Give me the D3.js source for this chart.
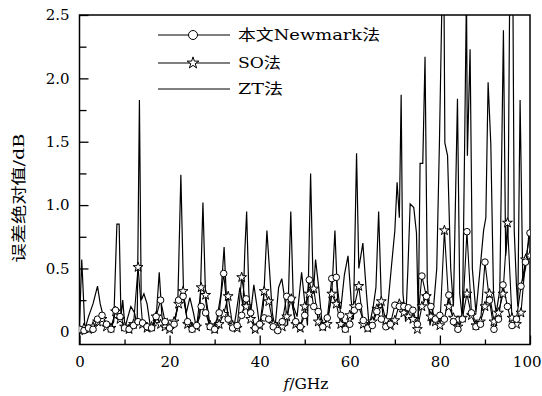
<!DOCTYPE html>
<html>
<head>
<meta charset="utf-8">
<script src="https://cdn.jsdelivr.net/npm/d3@7"></script>
<style>
  body { margin: 0; background: #fff; }
  text { font-family: "DejaVu Serif", "Noto Sans CJK SC", serif; fill: #000; }
</style>
</head>
<body>
<svg id="chart" width="542" height="396"></svg>
<script>
// sample grid (GHz) for the two marker series
const freq = d3.range(0, 101);

// 本文Newmark法 (circles)
const newmark = [
  0.02, 0.01, 0.03, 0.02, 0.10, 0.13, 0.06, 0.02, 0.17, 0.12,
  0.03, 0.02, 0.05, 0.08, 0.07, 0.04, 0.03, 0.12, 0.25, 0.08,
  0.03, 0.06, 0.25, 0.28, 0.08, 0.02, 0.05, 0.20, 0.15, 0.04,
  0.02, 0.15, 0.46, 0.10, 0.03, 0.05, 0.13, 0.26, 0.15, 0.03,
  0.06, 0.11, 0.10, 0.04, 0.01, 0.08, 0.28, 0.26, 0.08, 0.04,
  0.13, 0.41, 0.20, 0.16, 0.04, 0.11, 0.42, 0.43, 0.13, 0.02,
  0.06, 0.17, 0.20, 0.09, 0.03, 0.05, 0.16, 0.10, 0.04, 0.06,
  0.21, 0.20, 0.20, 0.19, 0.17, 0.06, 0.44, 0.28, 0.20, 0.10,
  0.13, 0.10, 0.29, 0.08, 0.02, 0.10, 0.79, 0.15, 0.04, 0.06,
  0.55, 0.25, 0.02, 0.10, 0.37, 0.20, 0.05, 0.10, 0.36, 0.55,
  0.78
];

// SO法 (stars)
const so = [
  0.01, 0.03, 0.02, 0.04, 0.08, 0.10, 0.04, 0.03, 0.16, 0.10,
  0.04, 0.02, 0.06, 0.51, 0.06, 0.03, 0.04, 0.12, 0.06, 0.04,
  0.02, 0.08, 0.22, 0.32, 0.06, 0.03, 0.04, 0.35, 0.29, 0.05,
  0.02, 0.06, 0.14, 0.28, 0.05, 0.03, 0.43, 0.20, 0.10, 0.02,
  0.05, 0.32, 0.24, 0.06, 0.03, 0.04, 0.12, 0.26, 0.06, 0.03,
  0.20, 0.30, 0.34, 0.08, 0.04, 0.06, 0.30, 0.22, 0.06, 0.03,
  0.13, 0.20, 0.36, 0.06, 0.03, 0.08, 0.18, 0.24, 0.09, 0.05,
  0.09, 0.22, 0.15, 0.12, 0.10, 0.02, 0.20, 0.28, 0.12, 0.08,
  0.05, 0.80, 0.20, 0.11, 0.04, 0.11, 0.30, 0.13, 0.05, 0.08,
  0.20, 0.30, 0.08, 0.15, 0.30, 0.86, 0.11, 0.06, 0.15, 0.57,
  0.60
];

// ZT法 (plain line, finer sampling)
const ztFreq = [
  0, 0.5, 1.2, 2.0, 3.0, 4.0, 4.6, 5.3, 6.0, 6.8, 7.6, 8.3, 8.8, 9.2, 9.6,
  10.1, 10.6, 11.4, 12.2, 12.8, 13.3, 13.7, 14.3, 15.0, 15.7, 16.3, 17.0, 17.7, 18.3, 18.8,
  19.5, 20.2, 21.0, 21.8, 22.5, 23.1, 23.7, 24.5, 25.3, 25.9, 26.7, 27.4, 28.0, 28.7, 29.6,
  30.5, 31.4, 32.1, 32.7, 33.4, 34.2, 34.8, 35.6, 36.3, 36.7, 37.1, 37.6, 38.0, 38.7, 39.4,
  40.0, 40.8, 41.6, 42.1, 42.8, 43.4, 44.2, 44.9, 45.6, 46.2, 46.9, 47.5, 48.3, 49.3, 50.1,
  50.6, 51.3, 51.9, 52.4, 53.1, 53.8, 54.5, 55.3, 56.0, 56.7, 57.3, 58.0, 58.8, 59.6, 60.3,
  60.8, 61.5, 62.0, 62.9, 63.7, 64.3, 65.2, 65.8, 66.4, 67.0, 67.6, 68.3, 69.2, 70.0, 70.5,
  71.0, 71.4, 71.8, 72.4, 72.9, 73.4, 74.2, 74.8, 75.2, 75.6, 76.2, 76.7, 77.2, 77.8, 78.6,
  79.3, 79.9, 80.5, 80.9, 81.1, 81.7, 82.4, 83.0, 83.9, 84.4, 85.0, 85.5, 85.9, 86.1, 86.7,
  87.2, 88.0, 88.8, 89.7, 90.2, 90.7, 91.3, 91.9, 92.5, 93.3, 94.1, 94.6, 95.1, 95.5, 96.2,
  96.5, 97.0, 97.3, 97.8, 98.4, 99.0, 99.8, 100
];
const zt = [
  0.05, 0.57, 0.02, 0.12, 0.22, 0.36, 0.22, 0.12, 0.05, 0.02, 0.08, 0.85, 0.85, 0.12, 0.25,
  0.03, 0.10, 0.20, 0.15, 0.05, 1.83, 0.25, 0.30, 0.22, 0.05, 0.03, 0.10, 0.47, 0.12, 0.05,
  0.10, 0.03, 0.05, 0.20, 1.24, 0.30, 0.15, 0.27, 0.15, 0.04, 0.12, 1.02, 0.25, 0.07, 0.02,
  0.10, 0.30, 0.67, 0.20, 0.05, 0.02, 0.15, 0.35, 0.20, 0.64, 0.95, 0.30, 0.15, 0.37, 0.20,
  0.04, 0.20, 0.80, 0.53, 0.15, 0.03, 0.35, 0.42, 0.25, 0.05, 0.95, 0.20, 0.12, 0.47, 0.20,
  0.05, 1.25, 0.30, 0.57, 0.35, 0.08, 0.02, 0.15, 0.30, 0.80, 0.25, 0.18, 0.45, 0.60, 0.25,
  0.10, 1.41, 0.50, 0.70, 0.30, 0.04, 0.20, 0.35, 0.95, 0.25, 0.05, 0.15, 0.50, 0.80, 1.18,
  0.90, 1.87, 0.30, 0.08, 0.50, 1.01, 0.98, 0.78, 0.10, 1.33, 1.33, 2.17, 0.40, 0.05, 0.20,
  0.50, 1.50, 2.70, 2.70, 1.49, 1.39, 0.50, 0.20, 1.84, 0.30, 0.10, 1.50, 2.70, 1.39, 2.23,
  0.50, 0.15, 0.45, 0.80, 0.90, 1.97, 1.48, 0.30, 0.15, 0.33, 2.38, 0.60, 0.80, 2.70, 2.70,
  0.80, 0.36, 0.20, 1.83, 0.40, 0.50, 0.78, 0.80
];

const xTicks = d3.range(0, 101, 10);
const xLabels = [0, 20, 40, 60, 80, 100];
const yTicks = d3.range(0, 2.51, 0.25);
const yLabels = [0, 0.5, 1.0, 1.5, 2.0, 2.5];
const legendNames = ['本文Newmark法', 'SO法', 'ZT法'];

const svg = d3.select('#chart');
const mLeft = 79.5, mRight = 530, mTop = 15, mBottom = 344.5;

const x = d3.scaleLinear().domain([0, 100]).range([mLeft, mRight]);
const y = d3.scaleLinear().domain([-0.1, 2.5]).range([mBottom, mTop]);

svg.append('defs').append('clipPath').attr('id', 'plotclip')
  .append('rect')
  .attr('x', mLeft).attr('y', mTop)
  .attr('width', mRight - mLeft).attr('height', mBottom - mTop);

// axes with inward ticks
const xAxis = svg.append('g')
  .attr('transform', `translate(0,${mBottom})`)
  .call(d3.axisBottom(x).tickValues(xTicks).tickSizeInner(-9).tickSizeOuter(0).tickPadding(10)
    .tickFormat(d => xLabels.includes(d) ? d : ''));
xAxis.select('.domain').remove();
xAxis.selectAll('.tick line')
  .attr('y2', d => xLabels.includes(d) ? -9 : -5)
  .attr('stroke-width', 1.3);
xAxis.selectAll('.tick text')
  .attr('y', 12).attr('dy', '0.71em')
  .style('font-size', '15px');
// keep the last label inside the picture
xAxis.selectAll('.tick text').filter(d => d === 100)
  .attr('text-anchor', 'end').attr('x', 11);

const isMajorY = d => yLabels.some(v => Math.abs(v - d) < 1e-6);
const yAxis = svg.append('g')
  .attr('transform', `translate(${mLeft},0)`)
  .call(d3.axisLeft(y).tickValues(yTicks).tickSizeInner(-9).tickSizeOuter(0).tickPadding(10)
    .tickFormat(d => isMajorY(d) ? (d === 0 ? '0' : d3.format('.1f')(d)) : ''));
yAxis.select('.domain').remove();
yAxis.selectAll('.tick line')
  .attr('x2', d => isMajorY(d) ? 9 : 7)
  .attr('stroke-width', 1.3);
yAxis.selectAll('.tick text')
  .attr('x', -10)
  .style('font-size', '15px');

// frame
svg.append('rect')
  .attr('x', mLeft).attr('y', mTop)
  .attr('width', mRight - mLeft).attr('height', mBottom - mTop)
  .attr('fill', 'none').attr('stroke', '#000').attr('stroke-width', 1.5);

const plot = svg.append('g').attr('clip-path', 'url(#plotclip)');
const line = d3.line().x(d => x(d[0])).y(d => y(d[1]));

const star = d3.symbol().type(d3.symbolStar).size(30);

// SO
plot.append('path')
  .datum(freq.map((f, i) => [f, so[i]]))
  .attr('d', line).attr('fill', 'none').attr('stroke', '#000').attr('stroke-width', 1.1);
// Newmark
plot.append('path')
  .datum(freq.map((f, i) => [f, newmark[i]]))
  .attr('d', line).attr('fill', 'none').attr('stroke', '#000').attr('stroke-width', 1.1);
// ZT
plot.append('path')
  .datum(ztFreq.map((f, i) => [f, zt[i]]))
  .attr('d', line).attr('fill', 'none').attr('stroke', '#000').attr('stroke-width', 1.2)
  .attr('stroke-linejoin', 'miter');

plot.selectAll('.so-pt')
  .data(freq.map((f, i) => [f, so[i]]))
  .enter().append('path')
  .attr('class', 'so-pt')
  .attr('d', star)
  .attr('transform', d => `translate(${x(d[0])},${y(d[1])})`)
  .attr('fill', '#fff').attr('stroke', '#000').attr('stroke-width', 1);

plot.selectAll('.nm-pt')
  .data(freq.map((f, i) => [f, newmark[i]]))
  .enter().append('circle')
  .attr('class', 'nm-pt')
  .attr('cx', d => x(d[0])).attr('cy', d => y(d[1]))
  .attr('r', 3.3)
  .attr('fill', '#fff').attr('stroke', '#000').attr('stroke-width', 1);

// legend
const legendRows = [35, 63, 89];
const legendWidths = [142, 43, 45];
const legend = svg.append('g');
legendNames.forEach((name, i) => {
  const g = legend.append('g').attr('transform', `translate(158,${legendRows[i]})`);
  g.append('line').attr('x1', 0).attr('x2', 72).attr('stroke', '#000').attr('stroke-width', 1.2);
  if (i === 0) {
    g.append('circle').attr('cx', 35).attr('r', 4.5)
      .attr('fill', '#fff').attr('stroke', '#000').attr('stroke-width', 1);
  } else if (i === 1) {
    g.append('path').attr('d', d3.symbol().type(d3.symbolStar).size(42)).attr('transform', 'translate(35,0)')
      .attr('fill', '#fff').attr('stroke', '#000').attr('stroke-width', 1);
  }
  g.append('text')
    .attr('x', 80).attr('y', 5)
    .attr('textLength', legendWidths[i]).attr('lengthAdjust', 'spacingAndGlyphs')
    .style('font-size', '14.5px')
    .text(name);
});

// axis titles
svg.append('text')
  .attr('transform', 'translate(19,198) rotate(-90)')
  .attr('text-anchor', 'middle').attr('dominant-baseline', 'central')
  .attr('textLength', 129).attr('lengthAdjust', 'spacingAndGlyphs')
  .style('font-size', '15px')
  .text('误差绝对值/dB');

const xt = svg.append('text')
  .attr('x', 306).attr('y', 389)
  .attr('text-anchor', 'middle')
  .style('font-size', '15.5px');
xt.append('tspan').style('font-style', 'italic').text('f');
xt.append('tspan').text('/GHz');
</script>
</body>
</html>
